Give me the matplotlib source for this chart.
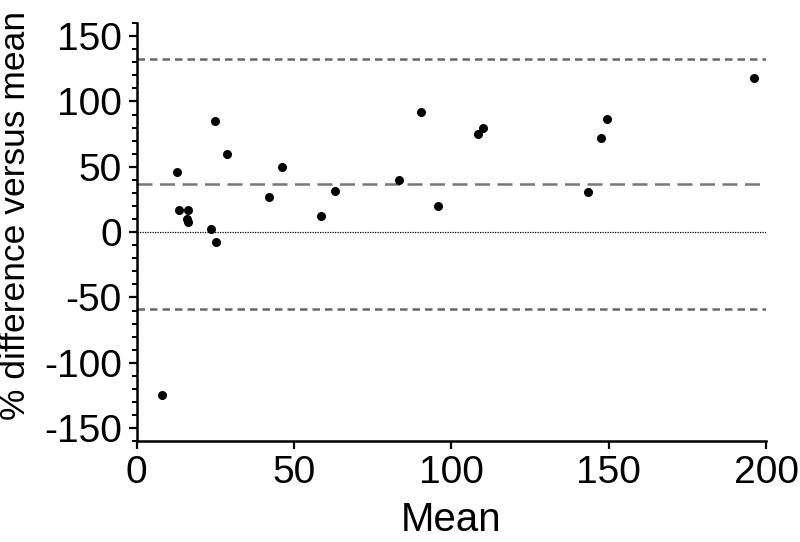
import numpy as np
import matplotlib.pyplot as plt
from matplotlib.ticker import MultipleLocator

plt.rcParams['font.family'] = ['Liberation Sans', 'DejaVu Sans']
plt.rcParams['axes.unicode_minus'] = False

# mean of the two methods vs % difference
mean_vals = [8.0, 12.9, 13.4, 16.3, 15.8, 16.3, 24.9, 28.6, 23.7, 25.3,
             42.1, 46.0, 58.6, 63.1, 83.2, 90.2, 95.6, 108.6, 110.2,
             143.3, 147.6, 149.5, 196.3]
pct_diff = [-124.7, 45.7, 16.8, 17.3, 9.9, 7.9, 84.7, 59.9, 2.5, -7.4,
            27.0, 49.7, 12.0, 31.1, 40.0, 92.3, 19.9, 75.2, 79.8,
            30.6, 71.9, 86.2, 117.6]

bias = 37.0
upper_loa = 132.5
lower_loa = -58.5

fig = plt.figure(figsize=(8, 5.42), dpi=100)
ax = fig.add_axes([0.171, 0.186, 0.7865, 0.7715])

ax.plot([0, 200], [upper_loa, upper_loa], color='#666666', lw=1.8, ls=(0, (3, 2)))
ax.plot([0, 200], [bias, bias], color='#777777', lw=1.8, ls=(0, (6, 3)))
ax.plot([0, 200], [lower_loa, lower_loa], color='#666666', lw=1.8, ls=(0, (3, 2)))
ax.plot([0, 200], [0, 0], color='black', lw=0.9, ls=(0, (1, 1)))

ax.scatter(mean_vals, pct_diff, s=30, color='black', zorder=3)

ax.set_xlim(0, 200)
ax.set_ylim(-160, 160)
ax.set_xticks([0, 50, 100, 150, 200])
ax.set_yticks([-150, -100, -50, 0, 50, 100, 150])
ax.yaxis.set_minor_locator(MultipleLocator(10))

ax.spines['top'].set_visible(False)
ax.spines['right'].set_visible(False)
ax.spines['left'].set_linewidth(1.8)
ax.spines['bottom'].set_linewidth(1.8)
ax.tick_params(axis='both', which='major', length=5.8, width=1.6, labelsize=28)
ax.tick_params(axis='x', which='major', pad=4)
ax.tick_params(axis='y', which='major', pad=5)
ax.tick_params(axis='y', which='minor', length=3.6, width=1.4)

ax.set_xlabel('Mean', fontsize=29, labelpad=7)
ax.set_ylabel('% difference versus mean', fontsize=25.5)
ax.yaxis.set_label_coords(-0.1665, 0.54)

plt.savefig('out.png', dpi=100)
